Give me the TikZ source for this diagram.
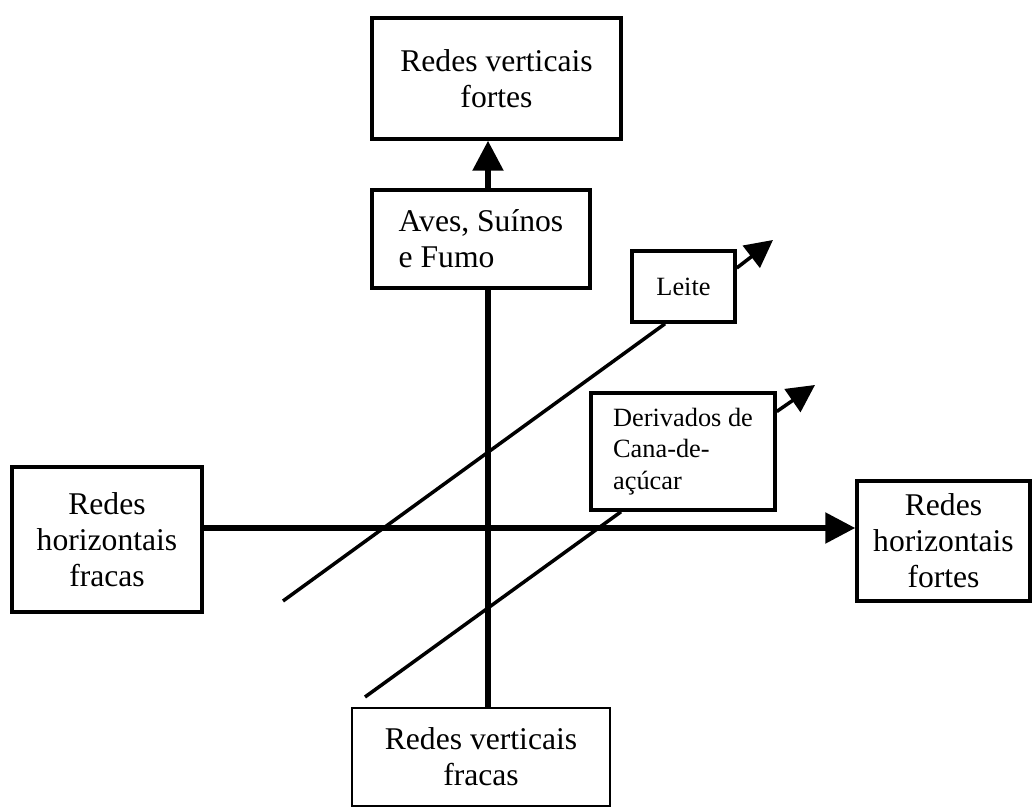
\documentclass[tikz,border=0pt]{standalone}
\usepackage{fontspec}
\setmainfont{Liberation Serif}
\usepackage{tikz}
\usetikzlibrary{arrows.meta}

\begin{document}
\begin{tikzpicture}[x=0.02cm, y=-0.02cm,
    box/.style={draw, line width=2pt, fill=white, align=center, inner sep=0pt, font=\fontsize{18}{20.5}\selectfont},
    smallbox/.style={box, align=left, font=\fontsize{15}{18}\selectfont},
    axis/.style={line width=3.1pt},
    diag/.style={line width=2pt},
    tip/.style={-{Triangle[length=0.6cm, width=0.6cm]}},
    smalltip/.style={-{Triangle[length=0.55cm, width=0.55cm]}}]
    \useasboundingbox (0,0) rectangle (1032,807);
    % Nodes
    \node[box, minimum width=4.98cm, minimum height=2.42cm] (vfortes) at (496.5,78.5) {Redes verticais\\fortes};
    \node[box, align=left, minimum width=4.36cm, minimum height=1.96cm] (aves) at (481,239) {Aves, Suínos\\e Fumo};
    \node[smallbox, minimum width=2.06cm, minimum height=1.42cm] (leite) at (683.5,286.5) {Leite};
    \node[smallbox, minimum width=3.68cm, minimum height=2.34cm] (cana) at (683,451.5) {Derivados de\\Cana-de-\\açúcar};
    \node[box, minimum width=3.8cm, minimum height=2.9cm] (hfracas) at (107,539.5) {Redes\\horizontais\\fracas};
    \node[box, minimum width=3.46cm, minimum height=2.4cm] (hfortes) at (943.5,541) {Redes\\horizontais\\fortes};
    \node[box, line width=0.7pt, minimum width=5.16cm, minimum height=1.96cm] (vfracas) at (481,757) {Redes verticais\\fracas};
    \coordinate (vx) at (488,528);
    \coordinate (leitestart) at (283,601);
    \coordinate (leitetip) at (773,240);
    \coordinate (canastart) at (365,697);
    \coordinate (canatip) at (815,385);
    % Axes
    \draw[axis] (vx |- vfracas.north) -- (vx |- aves.south);
    \draw[axis, tip] (vx |- aves.north) -- (vx |- vfortes.south);
    \draw[axis, tip] (vx -| hfracas.east) -- (vx -| hfortes.west);
    % Diagonal lines
    \draw[diag] (leitestart) -- ([xshift=-0.37cm]leite.south);
    \draw[diag, smalltip] ([yshift=0.37cm]leite.east) -- (leitetip);
    \draw[diag] (canastart) -- ([xshift=-1.24cm]cana.south);
    \draw[diag, smalltip] ([yshift=0.8cm]cana.east) -- (canatip);
\end{tikzpicture}
\end{document}
